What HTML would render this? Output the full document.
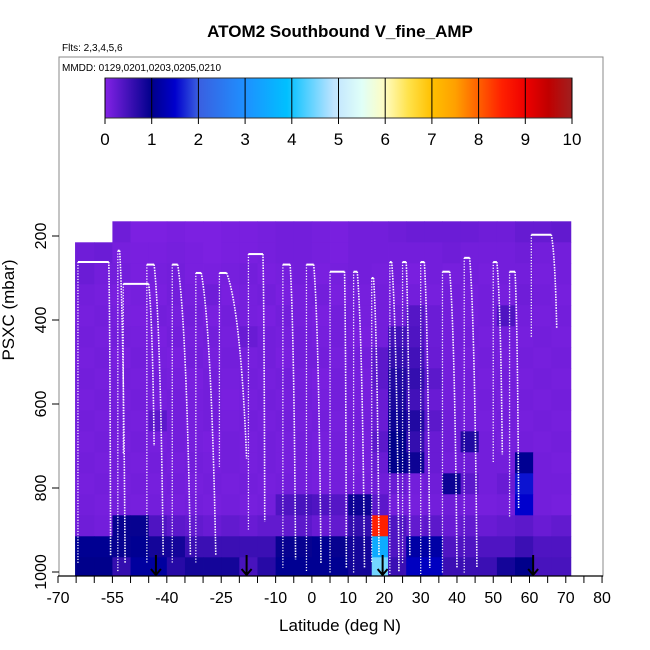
<!DOCTYPE html>
<html><head><meta charset="utf-8"><style>
html,body{margin:0;padding:0;background:#fff;}
svg{display:block;font-family:"Liberation Sans",Arial,sans-serif;}
</style></head><body>
<svg id="chart" width="650" height="650" viewBox="0 0 650 650">
<defs>
<linearGradient id="cbgrad" x1="0" x2="1" y1="0" y2="0"></linearGradient>
<clipPath id="dataclip"><rect x="0" y="0" width="650" height="576"/></clipPath>
</defs>
<text x="340" y="37" text-anchor="middle" font-size="17" font-weight="bold">ATOM2 Southbound V_fine_AMP</text>
<text x="62" y="51" font-size="10">Flts: 2,3,4,5,6</text>
<rect x="59" y="57" width="544" height="519" fill="none" stroke="#888" stroke-width="1"/>
<text x="62" y="71" font-size="10">MMDD: 0129,0201,0203,0205,0210</text>
<g id="colorbar"></g>
<g id="heat" clip-path="url(#dataclip)"></g>
<g id="tracks" clip-path="url(#dataclip)"></g>
<g id="axes"></g>
<g id="arrows"></g>
<text x="340" y="631" text-anchor="middle" font-size="17">Latitude (deg N)</text>
<text transform="translate(14,310) rotate(-90)" text-anchor="middle" font-size="17">PSXC (mbar)</text>
</svg>
<script>
// ---- data ----
const latEdges = [-65.3,-60,-55,-50,-45,-40,-35,-30,-25,-20,-15,-10,-5,0,5,10,16.5,21,26,31,36,41,46,51,56,61,66,71.4];
const presEdges = [165,215,265,315,365,415,465,515,565,615,665,715,765,815,865,915,965,1015];
const n = null;
const row0  = [n,n,.15,.05,.05,.08,.05,.05,.08,.08,.1,.12,.12,.1,.08,.12,.12,.15,.18,.18,.18,.18,.15,.15,.22,.22,.25];
const row1  = [.15,.18,.1,.08,.08,.1,.08,.05,.08,.08,.1,.12,.12,.1,.08,.12,.12,.12,.12,.12,.15,.12,.12,.12,.15,.12,.12];
const row2  = [.18,.12,.12,.08,.1,.12,.08,.08,.1,.12,.08,.1,.12,.08,.1,.12,.1,.12,.08,.12,.1,.12,.1,.12,.12,.1,.12];
const row3  = [.12,.1,.08,.1,.08,.12,.1,.15,.08,.1,.12,.08,.1,.12,.08,.1,.12,.1,.12,.1,.12,.1,.12,.1,.15,.12,.1];
const row4  = [.1,.12,.1,.08,.12,.1,.12,.08,.12,.1,.08,.12,.1,.08,.12,.1,.12,.15,.35,.18,.12,.1,.12,.4,.12,.1,.12];
const row5  = [.12,.1,.12,.1,.08,.12,.1,.12,.1,.2,.12,.1,.12,.1,.12,.08,.12,.5,.4,.18,.12,.12,.1,.12,.1,.12,.1];
const row6  = [.1,.12,.08,.12,.1,.08,.12,.1,.12,.1,.12,.08,.12,.12,.1,.12,.3,.6,.5,.2,.12,.1,.12,.1,.12,.1,.12];
const row7  = [.12,.1,.12,.1,.12,.1,.08,.12,.1,.12,.1,.12,.1,.08,.12,.1,.3,.75,.6,.3,.12,.12,.1,.12,.1,.12,.1];
const row8  = [.1,.12,.1,.12,.1,.12,.1,.12,.08,.1,.12,.1,.12,.1,.12,.1,.2,.8,.5,.2,.12,.1,.12,.1,.12,.1,.12];
const row9  = [.12,.1,.12,.1,.3,.12,.1,.12,.1,.12,.1,.12,.1,.12,.1,.12,.2,.9,.75,.3,.15,.12,.1,.12,.1,.12,.1];
const row10 = [.1,.12,.1,.12,.1,.12,.1,.08,.12,.1,.12,.1,.12,.1,.12,.1,.3,1.0,.6,.2,.15,.75,.12,.1,.12,.1,.12];
const row11 = [.12,.1,.12,.1,.12,.1,.12,.1,.12,.1,.12,.1,.12,.1,.12,.1,.2,1.0,.9,.2,.12,.15,.12,.12,1.05,.12,.1];
const row12 = [.1,.12,.1,.12,.1,.12,.1,.12,.1,.12,.1,.12,.12,.1,.12,.12,.15,.2,.12,.15,.9,.3,.12,.2,1.6,.12,.12];
const row13 = [.12,.1,.12,.1,.12,.1,.12,.1,.12,.1,.12,.4,.45,.4,.35,.9,.3,.12,.1,.12,.15,.12,.1,.12,1.5,.12,.1];
const row14 = [.15,.12,.95,.95,.4,.3,.25,.2,.25,.2,.25,.25,.3,.2,.25,.6,8.5,.4,.25,.3,.2,.25,.2,.25,.3,.2,.25];
const row15 = [1.05,1.05,.95,1.05,.85,.85,.55,.55,.55,.55,.55,.95,.95,1.05,.95,.85,3.5,.4,1.2,1.2,.4,.4,.4,.4,.55,.4,.4];
const row16 = [1.0,1.0,.6,1.15,1.15,.7,.85,.85,.85,.45,.7,1.05,1.05,1.05,1.05,.85,4.5,.55,1.4,1.4,.55,.55,.55,.85,1.0,.45,.45];
const grid = [row0,row1,row2,row3,row4,row5,row6,row7,row8,row9,row10,row11,row12,row13,row14,row15,row16];
// profile: ascent lat, top pressure, leg end lat, descent end lat, bottom pressure
const profUp     = [-64.5,-53.5,-52,-45.5,-38.5,-32,-25.5,-17.5,-8,-1.5,5,11.5,16.5,21.5,25,30,36,42,50,54.5,60.5];
const profTop    = [262,235,314,268,268,288,288,243,268,268,285,285,300,262,262,262,285,252,262,285,197];
const profLegEnd = [-56,-53,-45,-43.5,-37,-30.5,-23.5,-13.5,-6,0.5,9,12.5,17,22,26,31,38,43.5,51,56,66];
const profDown   = [-55.5,-51.5,-43.5,-41,-33.5,-26.5,-18,-13,-4.5,2.5,9.5,14.5,18.5,24,27,32.5,40,45.5,52.5,57,67.5];
const profBot    = [960,980,700,960,960,960,730,880,970,980,990,990,960,1000,960,990,990,990,720,850,420];
const arrowLats = [-43,-18,19.5,61];
const xTicks = [-70,-55,-40,-25,-10,0,10,20,30,40,50,60,70,80];
const yTicks = [200,400,600,800,1000];
const cbTicks = [0,1,2,3,4,5,6,7,8,9,10];
const cStops = [[0,'#8322e6'],[1,'#00008b'],[1.5,'#0000cd'],[2,'#3a5fe0'],[3,'#1e90ff'],[3.9,'#00c0ff'],[4.9,'#c0e4ff'],[5.5,'#e0fff8'],[6,'#fffcc0'],[6.5,'#ffe24a'],[7,'#ffc000'],[7.5,'#ffa000'],[8,'#ff6000'],[8.5,'#ff2000'],[9,'#ee0000'],[9.5,'#c00000'],[10,'#a02020']];
// ---- scales ----
const X = lat => 58 + (lat + 70) * 3.627;
const Y = p => 236 + (p - 200) * 0.42;
const NS = 'http://www.w3.org/2000/svg';
function mk(tag, attrs, parent){const e=document.createElementNS(NS,tag);for(const k in attrs)e.setAttribute(k,attrs[k]);parent.appendChild(e);return e;}
function hex(h){return [1,3,5].map(i=>parseInt(h.substr(i,2),16));}
function color(v){
  if(v<=cStops[0][0])return cStops[0][1];
  for(let i=1;i<cStops.length;i++){if(v<=cStops[i][0]){const a=cStops[i-1],b=cStops[i];const t=(v-a[0])/(b[0]-a[0]);const ca=hex(a[1]),cb=hex(b[1]);return 'rgb('+ca.map((c,j)=>Math.round(c+(cb[j]-c)*t)).join(',')+')';}}
  return cStops[cStops.length-1][1];
}
// colorbar
const grad=document.getElementById('cbgrad');
cStops.forEach(s=>mk('stop',{offset:(s[0]/10*100)+'%','stop-color':s[1]},grad));
const cb=document.getElementById('colorbar');
const cbX=v=>105+v*46.7;
const cbRect=mk('rect',{x:105,y:78,width:467,height:40,fill:'url(#cbgrad)',stroke:'#333','stroke-width':1},cb);


cbTicks.forEach(v=>{
  const l=mk('line',{x1:cbX(v),x2:cbX(v),y1:78,y2:124,stroke:'#000','stroke-width':1},cb);
  
  
  const t=mk('text',{x:cbX(v),y:145,'text-anchor':'middle','font-size':17},cb);t.textContent=v;
  
  
});
// heatmap
const heat=document.getElementById('heat');
grid.forEach((row,r)=>row.forEach((v,c)=>{
  if(v===null)return;
  const x0=X(latEdges[c]),x1=X(latEdges[c+1]),y0=Y(presEdges[r]),y1=Y(presEdges[r+1]);
  const e=mk('rect',{x:x0,y:y0,width:x1-x0+0.4,height:y1-y0+0.4,fill:color(v)},heat);
  
  
}));
// tracks
const tr=document.getElementById('tracks');
profUp.forEach((u,i)=>{
  const top=profTop[i],le=profLegEnd[i],de=profDown[i],b=profBot[i];
  const a=mk('line',{x1:X(u),x2:X(u),y1:Y(top),y2:Y(Math.min(b+20,1005)),stroke:'#fff','stroke-width':1.3,'stroke-dasharray':'1.2 1.6'},tr);
  
  
  const g=mk('line',{x1:X(u),x2:X(le),y1:Y(top),y2:Y(top),stroke:'#fff','stroke-width':2},tr);
  
  
  const d=mk('path',{d:'M'+X(le)+','+Y(top)+' Q'+X(le+(de-le)*0.7)+','+Y(top+(b-top)*0.2)+' '+X(de)+','+Y(b),fill:'none',stroke:'#fff','stroke-width':1.6,'stroke-dasharray':'1.5 1.2'},tr);
  
  
});
// axes
const ax=document.getElementById('axes');
const xl=mk('line',{x1:58,x2:603,y1:576,y2:576,stroke:'#000','stroke-width':1.3},ax);


for(let lat=-70;lat<=80;lat+=5){
  const t=mk('line',{x1:X(lat),x2:X(lat),y1:576,y2:583,stroke:'#000','stroke-width':1},ax);
  
  
}
xTicks.forEach(v=>{
  const t=mk('text',{x:X(v),y:603,'text-anchor':'middle','font-size':16},ax);t.textContent=v;
  
  
});
yTicks.forEach(v=>{
  const l=mk('line',{x1:52,x2:59,y1:Y(v),y2:Y(v),stroke:'#000','stroke-width':1},ax);
  
  
  const t=mk('text',{transform:'translate(46,'+Y(v)+') rotate(-90)','text-anchor':'middle','font-size':16},ax);t.textContent=v;
  
  
});
// arrows
const ar=document.getElementById('arrows');
arrowLats.forEach(l=>{
  const x=X(l);
  const p=mk('path',{d:'M'+x+',555 L'+x+',575 M'+(x-5)+',569 L'+x+',575 L'+(x+5)+',569',stroke:'#000','stroke-width':2,fill:'none'},ar);
  
  
});
</script>
</body></html>
